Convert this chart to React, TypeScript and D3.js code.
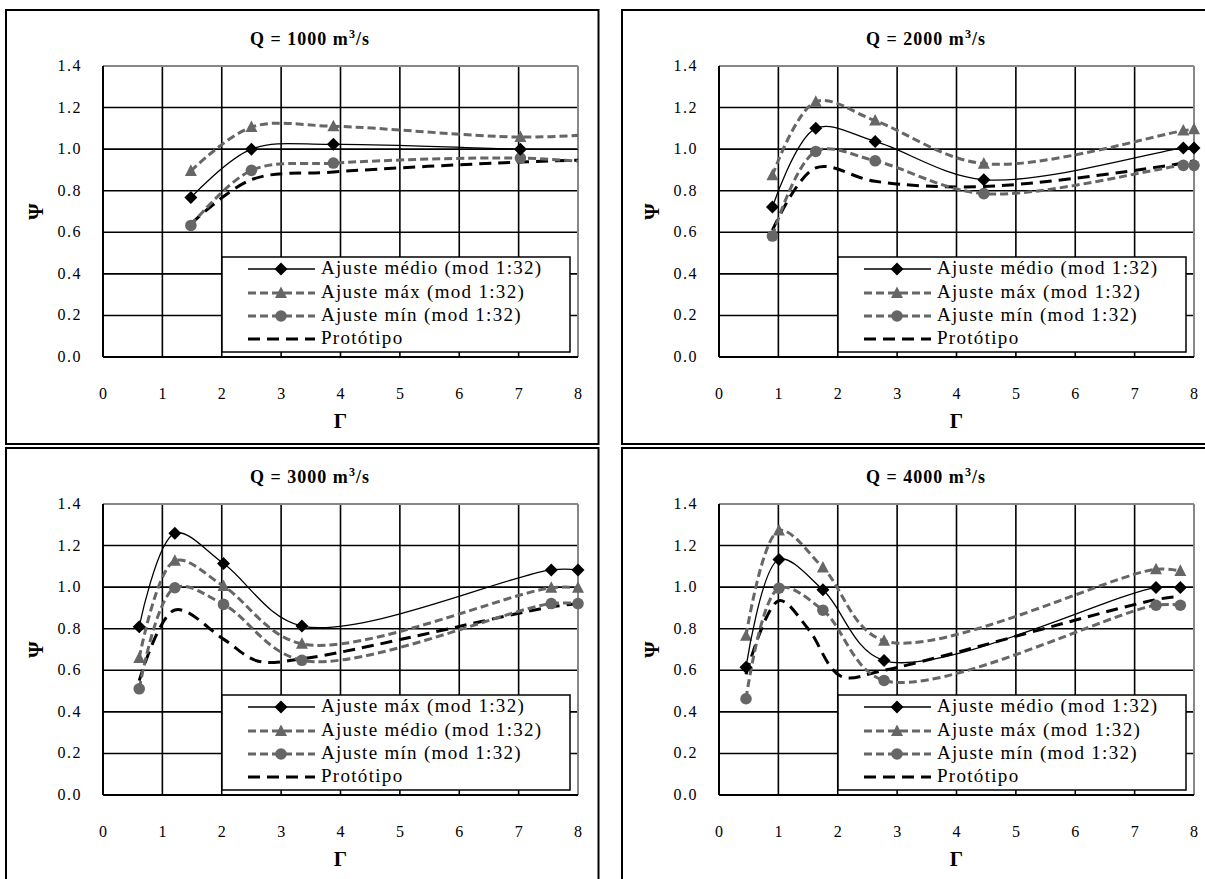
import React from "react";
import * as d3 from "d3";

// ---------- DATA ----------
const xTicks = [0, 1, 2, 3, 4, 5, 6, 7, 8];
const yTicks = [0, 0.2, 0.4, 0.6, 0.8, 1.0, 1.2, 1.4];

const titles = ["1000", "2000", "3000", "4000"];

// Q = 1000
const q1Gamma = [1.48, 2.5, 3.88, 7.03, 8.5];
const q1Medio = [0.767, 1.0, 1.023, 1.0, 1.0];
const q1Max = [0.895, 1.106, 1.11, 1.058, 1.075];
const q1Min = [0.633, 0.898, 0.933, 0.957, 0.93];
const q1ProtGamma = [1.48, 2.5, 3.88, 7.03, 8.5];
const q1Prot = [0.64, 0.853, 0.89, 0.938, 0.95];

// Q = 2000
const q2Gamma = [0.9, 1.63, 2.63, 4.46, 7.82, 8.0];
const q2Medio = [0.722, 1.1, 1.037, 0.853, 1.005, 1.005];
const q2Max = [0.874, 1.228, 1.137, 0.93, 1.089, 1.096];
const q2Min = [0.582, 0.989, 0.944, 0.786, 0.922, 0.922];
const q2ProtGamma = [0.9, 1.63, 2.63, 4.46, 7.82, 8.0];
const q2Prot = [0.61, 0.91, 0.845, 0.82, 0.933, 0.945];

// Q = 3000
const q3Gamma = [0.61, 1.21, 2.03, 3.35, 7.55, 8.0];
const q3Diamond = [0.81, 1.259, 1.114, 0.813, 1.083, 1.083];
const q3Triangle = [0.659, 1.127, 1.005, 0.727, 0.997, 0.997];
const q3Circle = [0.511, 0.997, 0.917, 0.648, 0.921, 0.921];
const q3ProtGamma = [0.61, 1.21, 2.03, 2.6, 3.35, 7.55, 8.0];
const q3Prot = [0.55, 0.89, 0.75, 0.645, 0.655, 0.905, 0.92];

// Q = 4000
const q4Gamma = [0.455, 1.01, 1.75, 2.78, 7.36, 7.77];
const q4Medio = [0.615, 1.133, 0.987, 0.647, 0.998, 0.998];
const q4Max = [0.766, 1.272, 1.094, 0.742, 1.086, 1.078];
const q4Min = [0.463, 0.995, 0.889, 0.551, 0.913, 0.913];
const q4ProtGamma = [0.455, 1.01, 1.5, 2.05, 2.78, 7.36, 7.77];
const q4Prot = [0.58, 0.935, 0.8, 0.572, 0.6, 0.94, 0.955];

const lblMedio = "Ajuste médio (mod 1:32)";
const lblMax = "Ajuste máx (mod 1:32)";
const lblMin = "Ajuste mín (mod 1:32)";
const lblProt = "Protótipo";

// ---------- STYLE ----------
const GRAY = "#666666";
const FONT = "Liberation Serif, DejaVu Serif, Times New Roman, serif";

type Style = "solidDiamond" | "grayTriangle" | "grayCircle" | "proto";
interface Series { label: string; style: Style; gx: number[]; vy: number[]; }
interface Panel { q: string; ox: number; oy: number; series: Series[]; }

const panels: Panel[] = [
  {
    q: titles[0], ox: 6, oy: 10,
    series: [
      { label: lblMedio, style: "solidDiamond", gx: q1Gamma, vy: q1Medio },
      { label: lblMax, style: "grayTriangle", gx: q1Gamma, vy: q1Max },
      { label: lblMin, style: "grayCircle", gx: q1Gamma, vy: q1Min },
      { label: lblProt, style: "proto", gx: q1ProtGamma, vy: q1Prot },
    ],
  },
  {
    q: titles[1], ox: 622, oy: 10,
    series: [
      { label: lblMedio, style: "solidDiamond", gx: q2Gamma, vy: q2Medio },
      { label: lblMax, style: "grayTriangle", gx: q2Gamma, vy: q2Max },
      { label: lblMin, style: "grayCircle", gx: q2Gamma, vy: q2Min },
      { label: lblProt, style: "proto", gx: q2ProtGamma, vy: q2Prot },
    ],
  },
  {
    q: titles[2], ox: 6, oy: 448,
    series: [
      { label: lblMax, style: "solidDiamond", gx: q3Gamma, vy: q3Diamond },
      { label: lblMedio, style: "grayTriangle", gx: q3Gamma, vy: q3Triangle },
      { label: lblMin, style: "grayCircle", gx: q3Gamma, vy: q3Circle },
      { label: lblProt, style: "proto", gx: q3ProtGamma, vy: q3Prot },
    ],
  },
  {
    q: titles[3], ox: 622, oy: 448,
    series: [
      { label: lblMedio, style: "solidDiamond", gx: q4Gamma, vy: q4Medio },
      { label: lblMax, style: "grayTriangle", gx: q4Gamma, vy: q4Max },
      { label: lblMin, style: "grayCircle", gx: q4Gamma, vy: q4Min },
      { label: lblProt, style: "proto", gx: q4ProtGamma, vy: q4Prot },
    ],
  },
];

const lineStyle = (s: Style) => {
  switch (s) {
    case "solidDiamond": return { stroke: "#000", strokeWidth: 1.3, dash: undefined as string | undefined };
    case "grayTriangle": return { stroke: GRAY, strokeWidth: 3, dash: "8,4" };
    case "grayCircle": return { stroke: GRAY, strokeWidth: 3, dash: "8,4" };
    default: return { stroke: "#000", strokeWidth: 3, dash: "12,7" };
  }
};

function Marker({ s, x, y }: { s: Style; x: number; y: number }) {
  if (s === "solidDiamond") {
    const r = 6.5;
    return <path d={`M${x},${y - r}L${x + r},${y}L${x},${y + r}L${x - r},${y}Z`} fill="#000" />;
  }
  if (s === "grayTriangle") {
    const h = 11, w = 12;
    return <path d={`M${x},${y - h * 0.6}L${x + w / 2},${y + h * 0.45}L${x - w / 2},${y + h * 0.45}Z`} fill={GRAY} />;
  }
  if (s === "grayCircle") return <circle cx={x} cy={y} r={5.8} fill={GRAY} />;
  return null;
}

// layout relative to panel origin
const PL = 97, PT = 56, PW = 475, PH = 291;
const PANEL_W = 592.5, PANEL_H = 434;

function ChartPanel({ p, idx }: { p: Panel; idx: number }) {
  const left = p.ox + PL, top = p.oy + PT;
  const x = d3.scaleLinear().domain([0, 8]).range([left, left + PW]);
  const y = d3.scaleLinear().domain([0, 1.4]).range([top + PH, top]);
  const line = d3.line<[number, number]>()
    .x((d) => x(d[0])).y((d) => y(d[1]))
    .curve(d3.curveCatmullRom.alpha(0.5));
  const clipId = `clip${idx}`;
  const lgL = left + 119, lgT = top + PH - 100, lgW = 348, lgH = 95;
  const rowY = [12, 36, 59, 82];
  const order: Style[] = ["proto", "grayCircle", "grayTriangle", "solidDiamond"];
  const drawOrder = [...p.series].sort((a, b) => order.indexOf(a.style) - order.indexOf(b.style));
  return (
    <g style={{ fontFamily: FONT }}>
      <rect x={p.ox} y={p.oy} width={PANEL_W} height={PANEL_H} fill="#fff" stroke="#000" strokeWidth={2} />
      <clipPath id={clipId}>
        <rect x={left} y={top - 10} width={PW} height={PH + 20} />
      </clipPath>
      <text x={p.ox + 304} y={p.oy + 35} textAnchor="middle" fontWeight="bold" fontSize={18} letterSpacing={1}>
        {`Q = ${p.q} m`}<tspan dy={-7} fontSize={12}>3</tspan><tspan dy={7}>/s</tspan>
      </text>
      {/* grid */}
      {xTicks.map((t) => (
        <line key={"gx" + t} x1={x(t)} x2={x(t)} y1={top} y2={top + PH} stroke="#000" strokeWidth={1.6} />
      ))}
      {yTicks.map((t) => (
        <line key={"gy" + t} x1={left} x2={left + PW} y1={y(t)} y2={y(t)} stroke="#000" strokeWidth={1.6} />
      ))}
      <line x1={left} x2={left + PW} y1={top} y2={top} stroke="#888" strokeWidth={2} />
      <line x1={left + PW} x2={left + PW} y1={top} y2={top + PH} stroke="#888" strokeWidth={2} />
      <line x1={left} x2={left} y1={top} y2={top + PH} stroke="#000" strokeWidth={2} />
      <line x1={left} x2={left + PW} y1={top + PH} y2={top + PH} stroke="#000" strokeWidth={2} />
      {/* tick labels */}
      {yTicks.map((t) => (
        <text key={"ty" + t} x={left - 21} y={y(t) + 5} textAnchor="end" fontSize={16} letterSpacing={1.5}>
          {t.toFixed(1)}
        </text>
      ))}
      {xTicks.map((t) => (
        <text key={"tx" + t} x={x(t)} y={top + PH + 42} textAnchor="middle" fontSize={16}>
          {t}
        </text>
      ))}
      <text x={x(4)} y={top + PH + 71} textAnchor="middle" fontWeight="bold" fontSize={21}>Γ</text>
      <text transform={`translate(${p.ox + 30},${y(0.7)}) rotate(-90)`} textAnchor="middle" fontWeight="bold" fontSize={21} dy={7}>Ψ</text>
      {/* series */}
      {drawOrder.map((s, i) => {
        const st = lineStyle(s.style);
        const pts = s.gx.map((g, k) => [g, s.vy[k]] as [number, number]);
        return (
          <g key={"s" + i}>
            <path d={line(pts) || ""} fill="none" stroke={st.stroke} strokeWidth={st.strokeWidth}
              strokeDasharray={st.dash} clipPath={`url(#${clipId})`} />
            {pts.filter((d) => d[0] <= 8).map((d, k) => (
              <Marker key={k} s={s.style} x={x(d[0])} y={y(d[1])} />
            ))}
          </g>
        );
      })}
      {/* legend */}
      <rect x={lgL} y={lgT} width={lgW} height={lgH} fill="#fff" stroke="#000" strokeWidth={1.5} />
      {p.series.map((s, i) => {
        const st = lineStyle(s.style);
        const cy = lgT + rowY[i];
        return (
          <g key={"l" + i}>
            <line x1={lgL + 26} x2={lgL + 93} y1={cy} y2={cy} stroke={st.stroke}
              strokeWidth={st.strokeWidth} strokeDasharray={st.dash} />
            <Marker s={s.style} x={lgL + 59} y={cy} />
            <text x={lgL + 99} y={cy + 5} fontSize={19} letterSpacing={1.3}>{s.label}</text>
          </g>
        );
      })}
    </g>
  );
}

export default function App() {
  return (
    <svg width={1205} height={879} style={{ position: "absolute", left: 0, top: 0, background: "#fff" }}>
      <rect x={0} y={0} width={1205} height={879} fill="#fff" />
      {panels.map((p, i) => <ChartPanel key={i} p={p} idx={i} />)}
    </svg>
  );
}
